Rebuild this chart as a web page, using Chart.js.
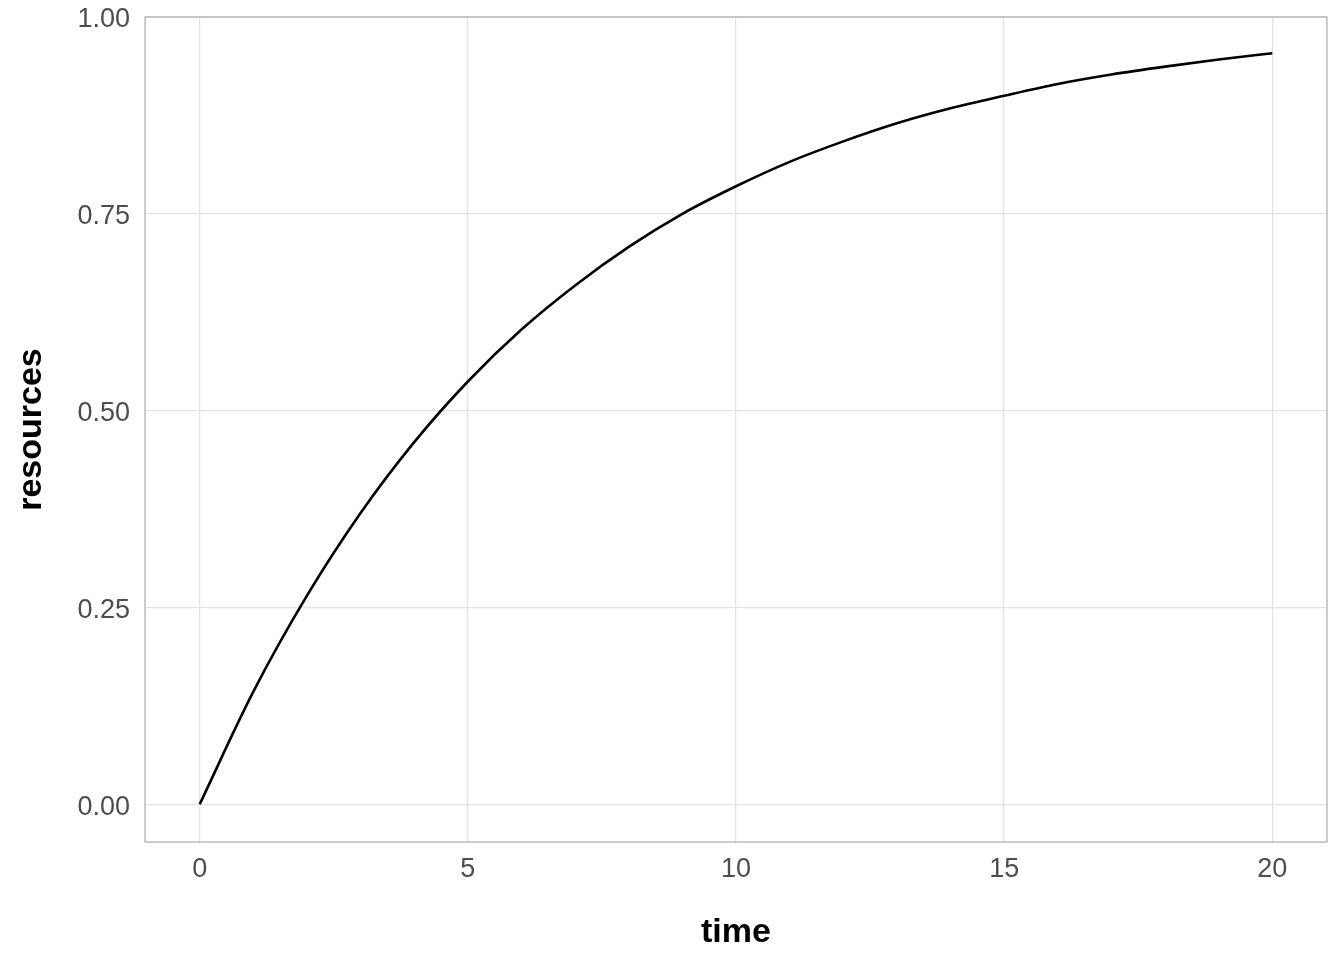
<!DOCTYPE html>
<html>
<head>
<meta charset="utf-8">
<script src="https://cdn.jsdelivr.net/npm/chart.js@4"></script>
<style>
  html, body { margin: 0; padding: 0; background: #fff; }
  #wrap { width: 1344px; height: 960px; }
</style>
</head>
<body>
<div id="wrap"><canvas id="curveChart" width="1344" height="960"></canvas></div>
<script>
// Resources over time
const times = [0, 1, 2, 3, 4, 5, 6, 7, 8, 9, 10, 11, 12, 13, 14, 15, 16, 17, 18, 19, 20];
const resources = [0.000, 0.143, 0.265, 0.370, 0.460, 0.537, 0.603, 0.659, 0.708, 0.750, 0.785,
                   0.816, 0.842, 0.865, 0.884, 0.900, 0.915, 0.927, 0.937, 0.946, 0.954];
const xTicks = [0, 5, 10, 15, 20];
const yTicks = [0, 0.25, 0.5, 0.75, 1.0];

const points = times.map((t, i) => ({ x: t, y: resources[i] }));

// panel border like ggplot theme_light
const panelBorder = {
    id: 'panelBorder',
    afterDraw(chart) {
        const a = chart.chartArea;
        const ctx = chart.ctx;
        ctx.save();
        ctx.strokeStyle = '#b3b3b3';
        ctx.lineWidth = 1.3;
        ctx.strokeRect(a.left, a.top, a.right - a.left, a.bottom - a.top);
        ctx.restore();
    }
};

const ctx = document.getElementById('curveChart').getContext('2d');
const curveChart = new Chart(ctx, {
    type: 'line',
    data: {
        datasets: [{
            label: 'resources',
            data: points,
            borderColor: '#000000',
            borderWidth: 2.6,
            pointRadius: 0,
            fill: false,
            cubicInterpolationMode: 'monotone'
        }]
    },
    options: {
        responsive: false,
        animation: false,
        layout: { padding: { top: 17, right: 17, left: 0, bottom: 0 } },
        plugins: {
            legend: { display: false },
            tooltip: { enabled: false }
        },
        scales: {
            x: {
                type: 'linear',
                min: -1.02,
                max: 21.02,
                afterBuildTicks: function(axis) {
                    axis.ticks = xTicks.map(v => ({ value: v }));
                },
                afterFit: function(axis) {
                    axis.height = 118;
                    axis.paddingLeft = 0;
                    axis.paddingRight = 0;
                },
                ticks: {
                    padding: 11,
                    color: '#4d4d4d',
                    font: { size: 27, family: 'Liberation Sans' }
                },
                grid: { color: '#e3e3e3', lineWidth: 1.3, drawTicks: false },
                border: { display: false },
                title: {
                    display: true,
                    text: 'time',
                    color: '#000000',
                    padding: { top: 0, bottom: 7 },
                    font: { size: 34, weight: 'bold', family: 'Liberation Sans' }
                }
            },
            y: {
                type: 'linear',
                min: -0.048,
                max: 1.0,
                afterBuildTicks: function(axis) {
                    axis.ticks = yTicks.map(v => ({ value: v }));
                },
                afterFit: function(axis) {
                    axis.width = 145;
                    axis.paddingTop = 0;
                    axis.paddingBottom = 0;
                },
                ticks: {
                    padding: 15,
                    labelOffset: 3,
                    color: '#4d4d4d',
                    font: { size: 27, family: 'Liberation Sans' },
                    callback: function(value) { return value.toFixed(2); }
                },
                grid: { color: '#e3e3e3', lineWidth: 1.3, drawTicks: false },
                border: { display: false },
                title: {
                    display: true,
                    text: 'resources',
                    color: '#000000',
                    padding: { top: 11, bottom: 0 },
                    font: { size: 34, weight: 'bold', family: 'Liberation Sans' }
                }
            }
        }
    },
    plugins: [panelBorder]
});
</script>
</body>
</html>
